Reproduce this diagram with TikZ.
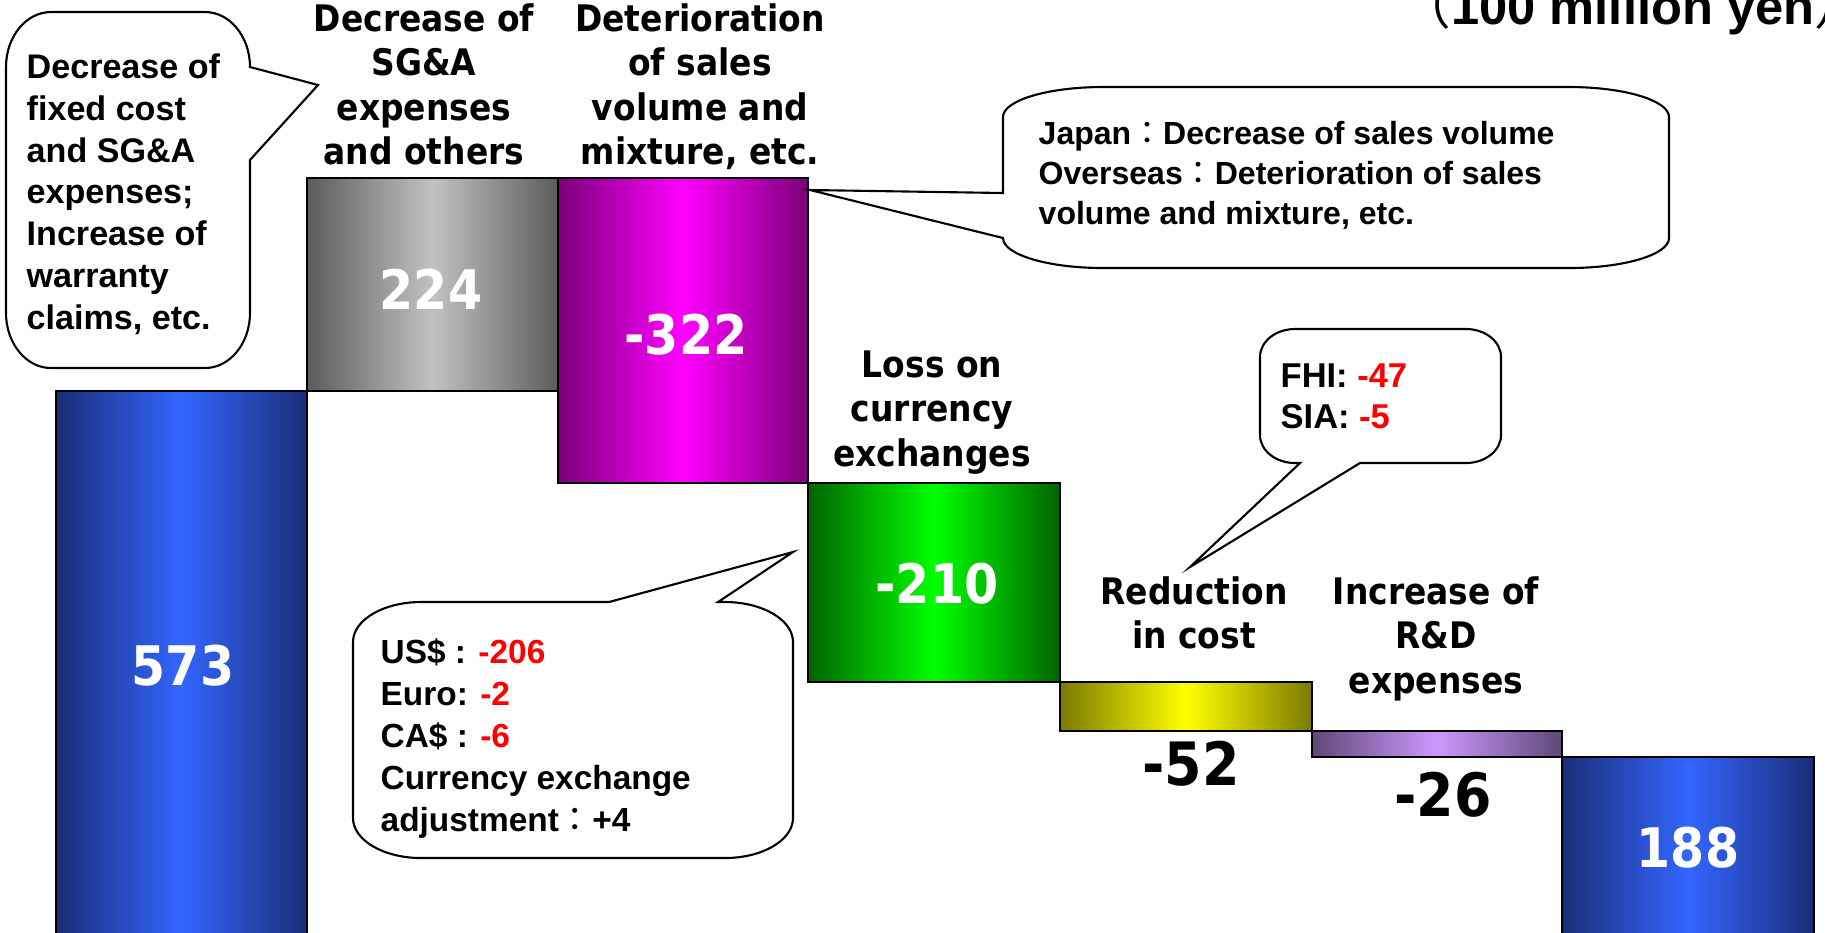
\documentclass[tikz,border=0pt]{standalone}
\usepackage{fontspec}
\setmainfont{Liberation Sans}
\newfontfamily\labfont{DejaVu Sans}[FakeStretch=0.9]
\newfontfamily\cjk{Noto Sans CJK JP}
\newcommand\fwcolon{{\cjk\mdseries ：}}
\definecolor{blueD}{HTML}{1A2E78}
\definecolor{blueL}{HTML}{3366FF}
\definecolor{grayD}{HTML}{5C5C5C}
\definecolor{grayL}{HTML}{C2C2C2}
\definecolor{magD}{HTML}{7A0078}
\definecolor{magL}{HTML}{FF00FF}
\definecolor{grnD}{HTML}{006400}
\definecolor{grnL}{HTML}{00FF00}
\definecolor{yelD}{HTML}{7A7A00}
\definecolor{yelL}{HTML}{FFFF00}
\definecolor{lavD}{HTML}{5F4878}
\definecolor{lavL}{HTML}{CC99FF}
\definecolor{redT}{HTML}{FF0000}
\begin{document}
\begin{tikzpicture}[x=0.01cm,y=-0.01cm,
  bar/.style={draw=black, line width=0.5pt},
  callout/.style={draw=black, fill=white, line width=0.6pt, line join=miter},
  barlabel/.style={font={\labfont\bfseries\fontsize{10.4}{12.6}\selectfont}, align=center, inner sep=0pt, anchor=north},
  whitenum/.style={font={\labfont\bfseries\fontsize{15.5}{18}\selectfont}, text=white, inner sep=0pt},
  blacknum/.style={font={\labfont\bfseries\fontsize{17}{20}\selectfont}, text=black, inner sep=0pt},
  ctext/.style={font={\bfseries\fontsize{9.7}{11.9}\selectfont}, align=left, inner sep=0pt, anchor=north west}
]
\useasboundingbox (0,0) rectangle (1825,932);
\clip (0,0) rectangle (1825,932);
\fill[white] (0,0) rectangle (1825,932);

% bars
\draw[bar, left color=blueD, right color=blueD, middle color=blueL] (56,391) rectangle (307,945);
\draw[bar, left color=grayD, right color=grayD, middle color=grayL] (307,178) rectangle (558,391);
\draw[bar, left color=magD, right color=magD, middle color=magL] (558,178) rectangle (808,483);
\draw[bar, left color=grnD, right color=grnD, middle color=grnL] (808,483) rectangle (1060,682);
\draw[bar, left color=yelD, right color=yelD, middle color=yelL] (1060,682) rectangle (1312,731);
\draw[bar, left color=lavD, right color=lavD, middle color=lavL] (1312,731) rectangle (1562,757);
\draw[bar, left color=blueD, right color=blueD, middle color=blueL] (1562,757) rectangle (1814,945);

% values
\node[whitenum] (v573) at (183,666) {573};
\node[whitenum] (v224) at (431,289) {224};
\node[whitenum] (v322) at (686,335) {-322};
\node[whitenum] (v210) at (937,584) {-210};
\node[blacknum] (v52) at (1191,764) {-52};
\node[blacknum] (v26) at (1443,795) {-26};
\node[whitenum] (v188) at (1688,848) {188};

% bar labels
\node[barlabel] (lsga) at (424,3) {Decrease of\\SG\&A\\expenses\\and others};
\node[barlabel] (lsales) at (700,3) {Deterioration\\of sales\\volume and\\mixture, etc.};
\node[barlabel] (lcur) at (932,350) {Loss on\\currency\\exchanges};
\node[barlabel] (lcost) at (1194,576) {Reduction\\in cost};
\node[barlabel] (lrd) at (1436,576) {Increase of\\R\&D\\expenses};

% unit
\node[inner sep=0pt, anchor=base west, font={\bfseries\fontsize{14.4}{17}\selectfont}] (unit) at (1400,24) {{\cjk\mdseries （}100 million yen{\cjk\mdseries ）}};

% callout: fixed cost (left)
\coordinate (tipL) at (318,85);
\draw[callout] (51,12) -- (205,12) .. controls (229.8,12) and (250,36.6) .. (250,67)
  -- (tipL) -- (250,160) -- (250,313) .. controls (250,343.4) and (229.8,368) .. (205,368)
  -- (51,368) .. controls (26.2,368) and (6,343.4) .. (6,313)
  -- (6,67) .. controls (6,36.6) and (26.2,12) .. (51,12) -- cycle;
\node[ctext] (tL) at (26,53) {Decrease of\\fixed cost\\and SG\&A\\expenses;\\Increase of\\warranty\\claims, etc.};

% callout: Japan / Overseas
\coordinate (tipJ) at (810,190);
\draw[callout] (1103,87) -- (1569,87) .. controls (1624.2,87) and (1669,100.4) .. (1669,117)
  -- (1669,238) .. controls (1669,254.6) and (1624.2,268) .. (1569,268)
  -- (1103,268) .. controls (1047.8,268) and (1003,254.6) .. (1003,238)
  -- (tipJ) -- (1003,193) -- (1003,117) .. controls (1003,100.4) and (1047.8,87) .. (1103,87) -- cycle;
\node[ctext, font={\bfseries\fontsize{9.1}{11.27}\selectfont}] (tJ) at (1038,121)
  {Japan\fwcolon Decrease of sales volume\\Overseas\fwcolon Deterioration of sales\\volume and mixture, etc.};

% callout: currency
\coordinate (tipC) at (793,552);
\draw[callout] (421,602) -- (609,602) -- (tipC) -- (718,602) -- (725,602)
  .. controls (762.5,602) and (793,619.9) .. (793,642)
  -- (793,818) .. controls (793,840.1) and (762.5,858) .. (725,858)
  -- (421,858) .. controls (383.5,858) and (353,840.1) .. (353,818)
  -- (353,642) .. controls (353,619.9) and (383.5,602) .. (421,602) -- cycle;
\node[ctext, font={\bfseries\fontsize{9.5}{11.95}\selectfont}] (tC) at (380,638)
  {US\$ : {\color{redT}-206}\\Euro: {\color{redT}-2}\\CA\$ : {\color{redT}-6}\\Currency exchange\\adjustment\fwcolon +4};

% callout: FHI / SIA
\coordinate (tipF) at (1190,567);
\draw[callout] (1295,329) -- (1466,329) .. controls (1485.3,329) and (1501,341.5) .. (1501,357)
  -- (1501,435) .. controls (1501,450.5) and (1485.3,463) .. (1466,463)
  -- (1360,463) -- (tipF) -- (1300,463) -- (1295,463)
  .. controls (1275.7,463) and (1260,450.5) .. (1260,435)
  -- (1260,357) .. controls (1260,341.5) and (1275.7,329) .. (1295,329) -- cycle;
\node[ctext, font={\bfseries\fontsize{9.8}{11.7}\selectfont}] (tF) at (1280,363)
  {FHI: {\color{redT}-47}\\SIA: {\color{redT}-5}};
\end{tikzpicture}
\end{document}
